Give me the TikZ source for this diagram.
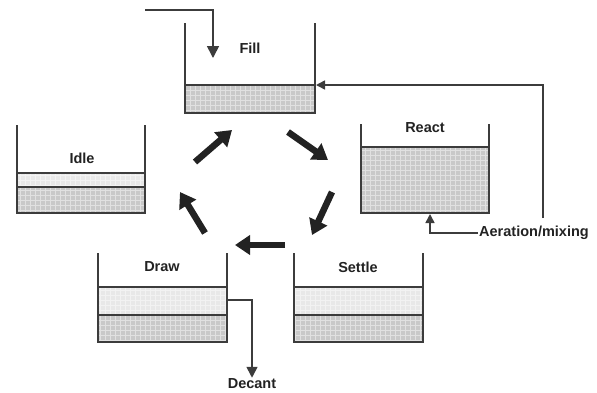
\documentclass[tikz,border=0pt]{standalone}
\usepackage{fontspec}
\setmainfont{Liberation Sans}
\definecolor{wallgray}{HTML}{3C3C3C}
\definecolor{sludge}{HTML}{C9C9C9}
\definecolor{clearwater}{HTML}{E8E8E8}
\definecolor{inkgray}{HTML}{222222}
\usetikzlibrary{arrows.meta,calc,positioning}
\tikzset{
  wall/.style={line width=1.5pt,wallgray},
  texture/.style={line width=0.4pt,white,opacity=0.45,step=5pt},
  pipe/.style={line width=1.6pt,wallgray,-{Triangle[length=9pt,width=9pt]}},
  cyc/.style={line width=6.5pt,inkgray,-{Triangle[length=15pt,width=19pt]}},
  lbl/.style={font=\fontsize{14.5}{16}\selectfont\bfseries,inkgray,inner sep=1pt}
}

\begin{document}
\begin{tikzpicture}[x=1pt,y=-1pt]
  \useasboundingbox (0,0) rectangle (597,392);
  % Fill
  \fill[sludge] (185,85) rectangle (315,113);
  \draw[texture] (185,85) grid (315,113);
  \draw[wall] (185,85)--(315,85);
  \draw[wall] (185,23)--(185,113)--(315,113)--(315,23);
  \node[lbl] (fill) at (250,48) {Fill};
  % React
  \fill[sludge] (361,147) rectangle (489,213);
  \draw[texture] (361,147) grid (489,213);
  \draw[wall] (361,147)--(489,147);
  \draw[wall] (361,124)--(361,213)--(489,213)--(489,124);
  \node[lbl] (react) at (425,128) {React};
  % Settle
  \fill[clearwater] (294,287) rectangle (423,315);
  \fill[sludge] (294,315) rectangle (423,342);
  \draw[texture] (294,287) grid (423,342);
  \draw[wall] (294,287)--(423,287);\draw[wall] (294,315)--(423,315);
  \draw[wall] (294,253)--(294,342)--(423,342)--(423,253);
  \node[lbl] (settle) at (358,267) {Settle};
  % Draw
  \fill[clearwater] (98,287) rectangle (227,315);
  \fill[sludge] (98,315) rectangle (227,342);
  \draw[texture] (98,287) grid (227,342);
  \draw[wall] (98,287)--(227,287);\draw[wall] (98,315)--(227,315);
  \draw[wall] (98,253)--(98,342)--(227,342)--(227,253);
  \node[lbl] (drawlbl) at (162,267) {Draw};
  % Idle
  \fill[clearwater] (17,173) rectangle (145,187);
  \fill[sludge] (17,187) rectangle (145,213);
  \draw[texture] (17,173) grid (145,213);
  \draw[wall] (17,173)--(145,173);\draw[wall] (17,187)--(145,187);
  \draw[wall] (17,125)--(17,213)--(145,213)--(145,125);
  \node[lbl] (idle) at (82,158) {Idle};

  % pipes
  \coordinate (feed) at (145,10);
  \coordinate (feedtip) at (213,58);
  \draw[pipe,-{Triangle[length=12pt,width=12pt]}] (feed) -| (feedtip);
  \coordinate (recycle) at (543,218);
  \coordinate (fillrim) at (316,85);
  \draw[pipe] (recycle) |- (fillrim);
  \node[lbl,anchor=west] (air) at (478,233) {Aeration/mixing};
  \coordinate (reactfloor) at (430,214);
  \draw[pipe] (air.west) -| (reactfloor);
  \coordinate (drawrim) at (227,300);
  \node[lbl] (decant) at (252,384) {Decant};
  \draw[pipe,-{Triangle[length=11pt,width=11pt]}] (drawrim) -| (decant.north);

  % cycle
  \coordinate (c1) at (195,162); \coordinate (c2) at (232,130);
  \coordinate (c3) at (288,132); \coordinate (c4) at (328,160);
  \coordinate (c5) at (332,192); \coordinate (c6) at (312,235);
  \coordinate (c7) at (285,245); \coordinate (c8) at (235,245);
  \coordinate (c9) at (205,233); \coordinate (c10) at (180,192);
  \draw[cyc] (c1)--(c2);
  \draw[cyc] (c3)--(c4);
  \draw[cyc] (c5)--(c6);
  \draw[cyc] (c7)--(c8);
  \draw[cyc] (c9)--(c10);
\end{tikzpicture}
\end{document}
